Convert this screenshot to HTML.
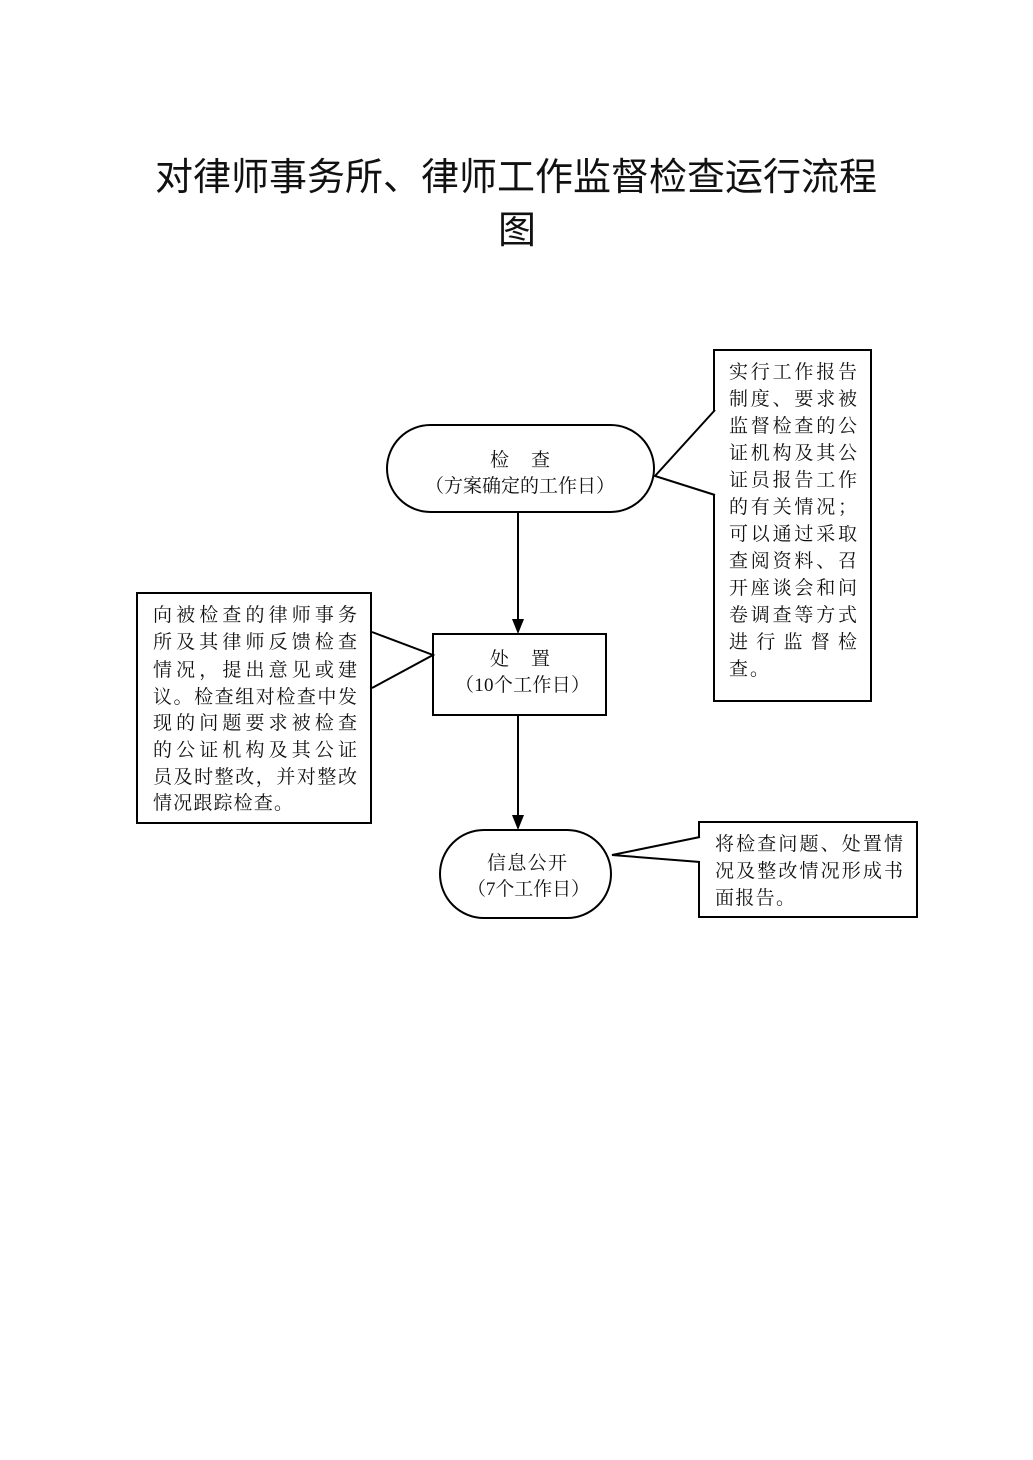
<!DOCTYPE html>
<html><head><meta charset="utf-8"><style>
html,body{margin:0;padding:0;background:#fff;}
svg{display:block;}
text{font-family:"Liberation Serif","Noto Serif CJK SC","Noto Sans CJK SC",serif;fill:#111;}
.t{font-family:"Liberation Sans","Noto Sans CJK SC",sans-serif;}
</style></head><body>
<svg width="1033" height="1460" viewBox="0 0 1033 1460" xmlns="http://www.w3.org/2000/svg">
<text class="t" x="516" y="190" font-size="38" text-anchor="middle">对律师事务所、律师工作监督检查运行流程</text>
<text class="t" x="517" y="243" font-size="38" text-anchor="middle">图</text>
<g fill="none" stroke="#000" stroke-width="2">
<rect x="387" y="425" width="267" height="87" rx="43.5"/>
<rect x="714" y="350" width="157" height="351"/>
<line x1="518" y1="512" x2="518" y2="622"/>
<rect x="433" y="634" width="173" height="81"/>
<rect x="137" y="593" width="234" height="230"/>
<line x1="518" y1="715" x2="518" y2="818"/>
<rect x="440" y="830" width="171" height="88" rx="44"/>
<rect x="699" y="822" width="218" height="95"/>
</g>
<polygon points="512,619 524,619 518,634" fill="#000"/>
<polygon points="512,815 524,815 518,830" fill="#000"/>
<g fill="#fff" stroke="#000" stroke-width="2">
<polyline points="715,410 655,476 715,495"/>
<polyline points="372,632 433,655 372,688"/>
<polyline points="700,837 612,855 700,862"/>
</g>
<g font-size="19">
<text x="490" y="466" textLength="60" lengthAdjust="spacing">检　查</text>
<text x="425" y="492" textLength="190" lengthAdjust="spacing">（方案确定的工作日）</text>
<text x="490" y="665" textLength="60" lengthAdjust="spacing">处　置</text>
<text x="455" y="691" textLength="135" lengthAdjust="spacing">（10个工作日）</text>
<text x="487" y="869" textLength="80" lengthAdjust="spacing">信息公开</text>
<text x="467" y="895" textLength="123" lengthAdjust="spacing">（7个工作日）</text>
</g>
<g font-size="19">
<text x="729" y="378" textLength="128" lengthAdjust="spacing">实行工作报告</text>
<text x="729" y="405" textLength="128" lengthAdjust="spacing">制度、要求被</text>
<text x="729" y="432" textLength="128" lengthAdjust="spacing">监督检查的公</text>
<text x="729" y="459" textLength="128" lengthAdjust="spacing">证机构及其公</text>
<text x="729" y="486" textLength="128" lengthAdjust="spacing">证员报告工作</text>
<text x="729" y="513" textLength="128" lengthAdjust="spacing">的有关情况；</text>
<text x="729" y="540" textLength="128" lengthAdjust="spacing">可以通过采取</text>
<text x="729" y="567" textLength="128" lengthAdjust="spacing">查阅资料、召</text>
<text x="729" y="594" textLength="128" lengthAdjust="spacing">开座谈会和问</text>
<text x="729" y="621" textLength="128" lengthAdjust="spacing">卷调查等方式</text>
<text x="729" y="648" textLength="128" lengthAdjust="spacing">进行监督检</text>
<text x="729" y="675" textLength="40" lengthAdjust="spacing">查。</text>
</g>
<g font-size="19">
<text x="153" y="621" textLength="204" lengthAdjust="spacing">向被检查的律师事务</text>
<text x="153" y="648" textLength="204" lengthAdjust="spacing">所及其律师反馈检查</text>
<text x="153" y="676" textLength="204" lengthAdjust="spacing">情况，提出意见或建</text>
<text x="153" y="703" textLength="204" lengthAdjust="spacing">议。检查组对检查中发</text>
<text x="153" y="729" textLength="204" lengthAdjust="spacing">现的问题要求被检查</text>
<text x="153" y="756" textLength="204" lengthAdjust="spacing">的公证机构及其公证</text>
<text x="153" y="783" textLength="204" lengthAdjust="spacing">员及时整改，并对整改</text>
<text x="153" y="809" textLength="140" lengthAdjust="spacing">情况跟踪检查。</text>
</g>
<g font-size="19">
<text x="715" y="850" textLength="188" lengthAdjust="spacing">将检查问题、处置情</text>
<text x="715" y="877" textLength="188" lengthAdjust="spacing">况及整改情况形成书</text>
<text x="715" y="904" textLength="80" lengthAdjust="spacing">面报告。</text>
</g>
</svg>
</body></html>
